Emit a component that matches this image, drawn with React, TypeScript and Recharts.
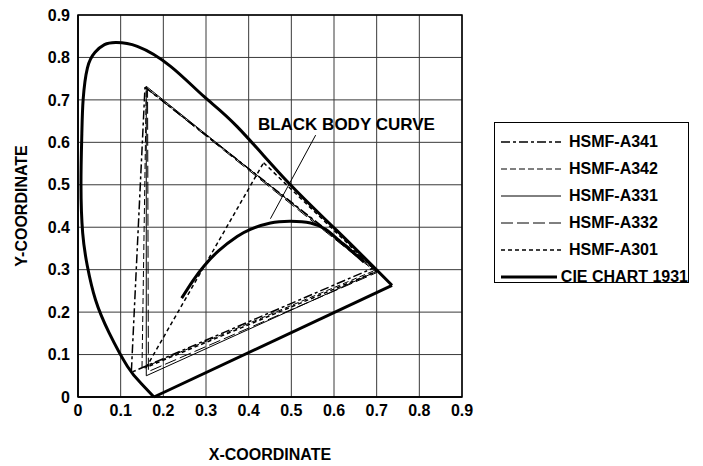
import React from 'react';
import {
  ScatterChart,
  Scatter,
  XAxis,
  YAxis,
  CartesianGrid,
  Legend,
  ReferenceArea,
  ReferenceLine,
  ReferenceDot,
} from 'recharts';

// axis ticks (x and y share the same scale 0 .. 0.9)
const TICKS = [0, 0.1, 0.2, 0.3, 0.4, 0.5, 0.6, 0.7, 0.8, 0.9];

// CIE 1931 spectral locus (horseshoe)
const CIE_X = [0.178, 0.147, 0.116, 0.073, 0.041, 0.022, 0.011, 0.007, 0.009, 0.012, 0.022, 0.04, 0.062, 0.088, 0.139, 0.217, 0.295, 0.373, 0.494, 0.607, 0.736];
const CIE_Y = [0.0, 0.033, 0.072, 0.151, 0.229, 0.308, 0.386, 0.5, 0.62, 0.7, 0.775, 0.812, 0.83, 0.835, 0.826, 0.779, 0.708, 0.637, 0.504, 0.392, 0.263];
// purple line closing the horseshoe
const PURPLE_X = [0.736, 0.178];
const PURPLE_Y = [0.263, 0.0];

// LED gamut triangles: green, red, blue, back to green
const A341_X = [0.157, 0.695, 0.125, 0.157];
const A341_Y = [0.73, 0.305, 0.058, 0.73];
const A342_X = [0.16, 0.7, 0.15, 0.16];
const A342_Y = [0.728, 0.3, 0.068, 0.728];
const A331_X = [0.16, 0.7, 0.16, 0.16];
const A331_Y = [0.732, 0.296, 0.05, 0.732];
const A332_X = [0.163, 0.7, 0.165, 0.163];
const A332_Y = [0.725, 0.293, 0.06, 0.725];
const A301_X = [0.435, 0.7, 0.16, 0.435];
const A301_Y = [0.552, 0.296, 0.07, 0.552];

// black body (Planckian) curve
const BB_X = [0.243, 0.27, 0.295, 0.33, 0.373, 0.404, 0.451, 0.498, 0.545, 0.58, 0.608, 0.64, 0.67];
const BB_Y = [0.233, 0.275, 0.308, 0.345, 0.378, 0.395, 0.41, 0.414, 0.41, 0.395, 0.372, 0.345, 0.318];

const NAMES = ['HSMF-A341', 'HSMF-A342', 'HSMF-A331', 'HSMF-A332', 'HSMF-A301', 'CIE CHART 1931'];

const zip = (xs: number[], ys: number[]) => xs.map((x, i) => ({ x, y: ys[i] }));

const FONT = '"Liberation Sans", Arial, Helvetica, sans-serif';

const STYLES = [
  { dash: '9 3 3 3', w: 1.5 },
  { dash: '6 3', w: 1 },
  { dash: undefined, w: 1 },
  { dash: '12 4', w: 1 },
  { dash: '4 3', w: 1.5 },
  { dash: undefined, w: 3 },
];

const noShape = () => <g />;

const renderLegend = () => (
  <div
    style={{
      border: '1.5px solid #000',
      width: 195,
      height: 161,
      boxSizing: 'border-box',
      background: '#fff',
      paddingTop: 5,
    }}
  >
    {NAMES.map((name, i) => (
      <div key={name} style={{ height: 27, display: 'flex', alignItems: 'center' }}>
        <svg width={66} height={10} style={{ marginLeft: 4 }}>
          <line x1={2} x2={62} y1={5} y2={5} stroke="#000" strokeWidth={STYLES[i].w} strokeDasharray={STYLES[i].dash} />
        </svg>
        <span style={{ marginLeft: 4, fontFamily: FONT, fontWeight: 700, fontSize: 16, color: '#000', whiteSpace: 'nowrap' }}>
          {name}
        </span>
      </div>
    ))}
  </div>
);

const fmt = (v: number) => (v === 0 ? '0' : v.toFixed(1));

export default function App() {
  const tick = { fontSize: 16, fontWeight: 700, fill: '#000', fontFamily: FONT };
  const series = [
    zip(A341_X, A341_Y),
    zip(A342_X, A342_Y),
    zip(A331_X, A331_Y),
    zip(A332_X, A332_Y),
    zip(A301_X, A301_Y),
  ];
  return (
    <div style={{ position: 'absolute', left: 0, top: 0, width: 703, height: 466, background: '#fff' }}>
      <ScatterChart width={703} height={466} margin={{ top: 15, right: 241, bottom: 0, left: 0 }}>
        <CartesianGrid stroke="#3a3a3a" strokeWidth={1} />
        <XAxis
          type="number"
          dataKey="x"
          domain={[0, 0.9]}
          ticks={TICKS}
          tickFormatter={fmt}
          tick={tick}
          tickLine={false}
          axisLine={{ stroke: '#000', strokeWidth: 1.5 }}
          height={69}
          interval={0}
          label={{ value: 'X-COORDINATE', position: 'insideBottom', offset: 6, style: { ...tick } }}
        />
        <YAxis
          type="number"
          dataKey="y"
          domain={[0, 0.9]}
          ticks={TICKS}
          tickFormatter={fmt}
          tick={tick}
          tickLine={false}
          axisLine={{ stroke: '#000', strokeWidth: 1.5 }}
          width={78}
          interval={0}
          label={{ value: 'Y-COORDINATE', position: 'insideLeft', angle: -90, offset: 21, style: { ...tick, textAnchor: 'middle' } }}
        />
        <ReferenceArea x1={0} x2={0.9} y1={0} y2={0.9} fill="none" stroke="#000" strokeWidth={1.5} />
        {series.map((d, i) => (
          <Scatter
            key={NAMES[i]}
            name={NAMES[i]}
            data={d}
            shape={noShape}
            line={{ stroke: '#000', strokeWidth: STYLES[i].w, strokeDasharray: STYLES[i].dash }}
            lineJointType="linear"
            isAnimationActive={false}
          />
        ))}
        <Scatter
          name={NAMES[5]}
          data={zip(CIE_X, CIE_Y)}
          shape={noShape}
          line={{ stroke: '#000', strokeWidth: 3 }}
          lineJointType="natural"
          isAnimationActive={false}
        />
        <Scatter
          name="purple"
          legendType="none"
          data={zip(PURPLE_X, PURPLE_Y)}
          shape={noShape}
          line={{ stroke: '#000', strokeWidth: 3 }}
          isAnimationActive={false}
        />
        <Scatter
          name="black body"
          legendType="none"
          data={zip(BB_X, BB_Y)}
          shape={noShape}
          line={{ stroke: '#000', strokeWidth: 3 }}
          lineJointType="natural"
          isAnimationActive={false}
        />
        <ReferenceLine
          segment={[
            { x: 0.451, y: 0.42 },
            { x: 0.557, y: 0.617 },
          ]}
          stroke="#000"
          strokeWidth={1}
        />
        <ReferenceDot
          x={0.629}
          y={0.644}
          r={0}
          fill="none"
          stroke="none"
          label={{ value: 'BLACK BODY CURVE', position: 'center', style: { ...tick, fontSize: 17 } }}
        />
        <Legend
          layout="horizontal"
          align="center"
          verticalAlign="middle"
          content={renderLegend}
          wrapperStyle={{ position: 'absolute', left: 494, top: 122, width: 195, height: 161 }}
        />
      </ScatterChart>
    </div>
  );
}
